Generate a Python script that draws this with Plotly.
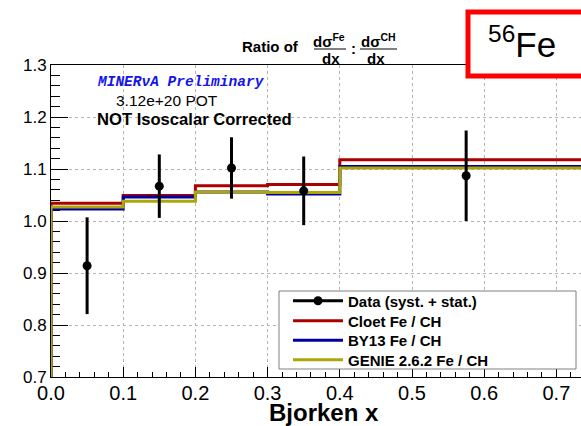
import plotly.graph_objects as go

# ---------------- data ----------------
bin_edges = [0.0, 0.1, 0.2, 0.3, 0.4, 0.75]
data_x = [0.05, 0.15, 0.25, 0.35, 0.575]
data_ratio = [0.914, 1.067, 1.102, 1.058, 1.087]
data_err = [0.093, 0.061, 0.059, 0.066, 0.087]

cloet_ratio = [1.034, 1.049, 1.068, 1.070, 1.118]
by13_ratio = [1.023, 1.046, 1.056, 1.052, 1.105]
genie_ratio = [1.027, 1.038, 1.056, 1.055, 1.102]

x_ticks = [0.0, 0.1, 0.2, 0.3, 0.4, 0.5, 0.6, 0.7]
x_tick_labels = ["0.0", "0.1", "0.2", "0.3", "0.4", "0.5", "0.6", "0.7"]
y_ticks = [0.7, 0.8, 0.9, 1.0, 1.1, 1.2, 1.3]
y_tick_labels = ["0.7", "0.8", "0.9", "1.0", "1.1", "1.2", "1.3"]

series = [
    ("Cloet Fe / CH", cloet_ratio, "rgb(170,0,0)"),
    ("BY13 Fe / CH", by13_ratio, "rgb(0,0,160)"),
    ("GENIE 2.6.2 Fe / CH", genie_ratio, "rgb(172,166,10)"),
]

# ---------------- layout geometry ----------------
W, H = 581, 426
L, R, T, B = 51, 0, 65, 49
PW, PH = W - L - R, H - T - B
X_MAX = PW / 722.0


def px(x):
    return (x - L) / PW


def py(y):
    return (H - B - y) / PH


FONT = "Liberation Sans, Arial, Helvetica, sans-serif"
LEG_FONT = dict(family=FONT, size=15, color="black", weight="bold")

fig = go.Figure()


def hist_steps(edges, vals):
    xs = [edges[0]] + list(edges)
    ys = [0.0] + list(vals) + [0.0]
    return xs, ys


for name, vals, col in series:
    xs, ys = hist_steps(bin_edges, vals)
    fig.add_trace(go.Scatter(
        x=xs, y=ys, mode="lines", line=dict(color=col, width=3, shape="hv"),
        name=name, showlegend=False, hoverinfo="skip"))

fig.add_trace(go.Scatter(
    x=data_x, y=data_ratio, mode="markers",
    marker=dict(color="black", size=9),
    error_y=dict(type="data", array=data_err, visible=True,
                 color="black", thickness=3, width=0),
    showlegend=False, name="Data (syst. + stat.)"))

# legend entries (one legend per row so the row spacing can match)
legend_rows = [("Data (syst. + stat.)", "black", True)] + [(n, c, False) for n, _, c in series]
row_centers = [300.5, 320.5, 340, 359.5]
legend_layouts = {}
for i, ((name, col, with_marker), yc) in enumerate(zip(legend_rows, row_centers)):
    key = "legend" if i == 0 else f"legend{i + 1}"
    fig.add_trace(go.Scatter(
        x=[None], y=[None], mode="lines+markers" if with_marker else "lines",
        line=dict(color=col, width=3), marker=dict(color=col, size=9),
        name=name, legend=key))
    legend_layouts[key] = dict(
        x=px(288), y=py(yc - 16), xanchor="left", yanchor="top",
        bgcolor="rgba(0,0,0,0)", borderwidth=0, font=LEG_FONT,
        itemwidth=50, tracegroupgap=0)

grid = dict(showgrid=True, gridcolor="#b4b4b4", griddash="dot", gridwidth=1)

fig.update_xaxes(
    range=[0, X_MAX], tickvals=x_ticks, ticktext=x_tick_labels,
    ticks="inside", ticklen=10, tickwidth=1, tickcolor="black",
    minor=dict(dtick=0.02, ticks="inside", ticklen=5, tickcolor="black", showgrid=False),
    showline=True, linecolor="black", linewidth=1, mirror=True,
    tickfont=dict(family=FONT, size=20, color="black"), ticklabelstandoff=-2,
    zeroline=False, **grid)
fig.update_yaxes(
    range=[0.7, 1.3], tickvals=y_ticks, ticktext=y_tick_labels,
    ticks="inside", ticklen=17, tickwidth=1, tickcolor="black",
    minor=dict(dtick=0.02, ticks="inside", ticklen=9, tickcolor="black", showgrid=False),
    showline=True, linecolor="black", linewidth=1, mirror=False, layer="below traces",
    tickfont=dict(family=FONT, size=17, color="black"),
    zeroline=False, **grid)

shapes = [
    # legend box
    dict(type="rect", xref="paper", yref="paper",
         x0=px(279), x1=px(576), y0=py(369), y1=py(291),
         line=dict(color="#808080", width=1), fillcolor="white", layer="above"),
    # red label box
    dict(type="rect", xref="paper", yref="paper",
         x0=px(468), x1=px(600), y0=py(76), y1=py(12),
         line=dict(color="red", width=5), fillcolor="white", layer="above"),
    # fraction bars
    dict(type="line", xref="paper", yref="paper",
         x0=px(314), x1=px(346), y0=py(49), y1=py(49),
         line=dict(color="black", width=1)),
    dict(type="line", xref="paper", yref="paper",
         x0=px(360), x1=px(397), y0=py(49), y1=py(49),
         line=dict(color="black", width=1)),
]

ann = []


def add_text(text, x, y, size, bold=False, color="black", family=FONT,
             italic=False, xanchor="center", yanchor="middle"):
    ann.append(dict(
        text=text, x=px(x), y=py(y), xref="paper", yref="paper",
        xanchor=xanchor, yanchor=yanchor, showarrow=False,
        font=dict(family=family, size=size, color=color,
                  weight="bold" if bold else "normal",
                  style="italic" if italic else "normal")))


add_text("Ratio of", 270, 47, 15, bold=True)
add_text("dσ<sup>Fe</sup>", 329, 40, 15, bold=True)
add_text("dx", 331, 58, 15, bold=True)
add_text(":", 353, 49, 15, bold=True)
add_text("dσ<sup>CH</sup>", 378, 40, 15, bold=True)
add_text("dx", 376, 58, 15, bold=True)
add_text("<sup>56</sup>Fe", 522, 42, 35)
add_text("MINERνA Preliminary", 181, 82, 14.5, bold=True, italic=True,
         color="rgb(20,20,235)", family="Liberation Mono, DejaVu Sans Mono, monospace")
add_text("3.12e+20 POT", 167, 100, 15.5)
add_text("NOT Isoscalar Corrected", 194, 119, 16.6, bold=True)
add_text("Bjorken x", 324, 428, 24, bold=True, yanchor="bottom")

fig.update_layout(
    width=W, height=H,
    margin=dict(l=L, r=R, t=T, b=B, pad=0),
    paper_bgcolor="white", plot_bgcolor="white",
    shapes=shapes, annotations=ann,
    showlegend=True,
    **legend_layouts,
)

fig.write_html("out.html")
